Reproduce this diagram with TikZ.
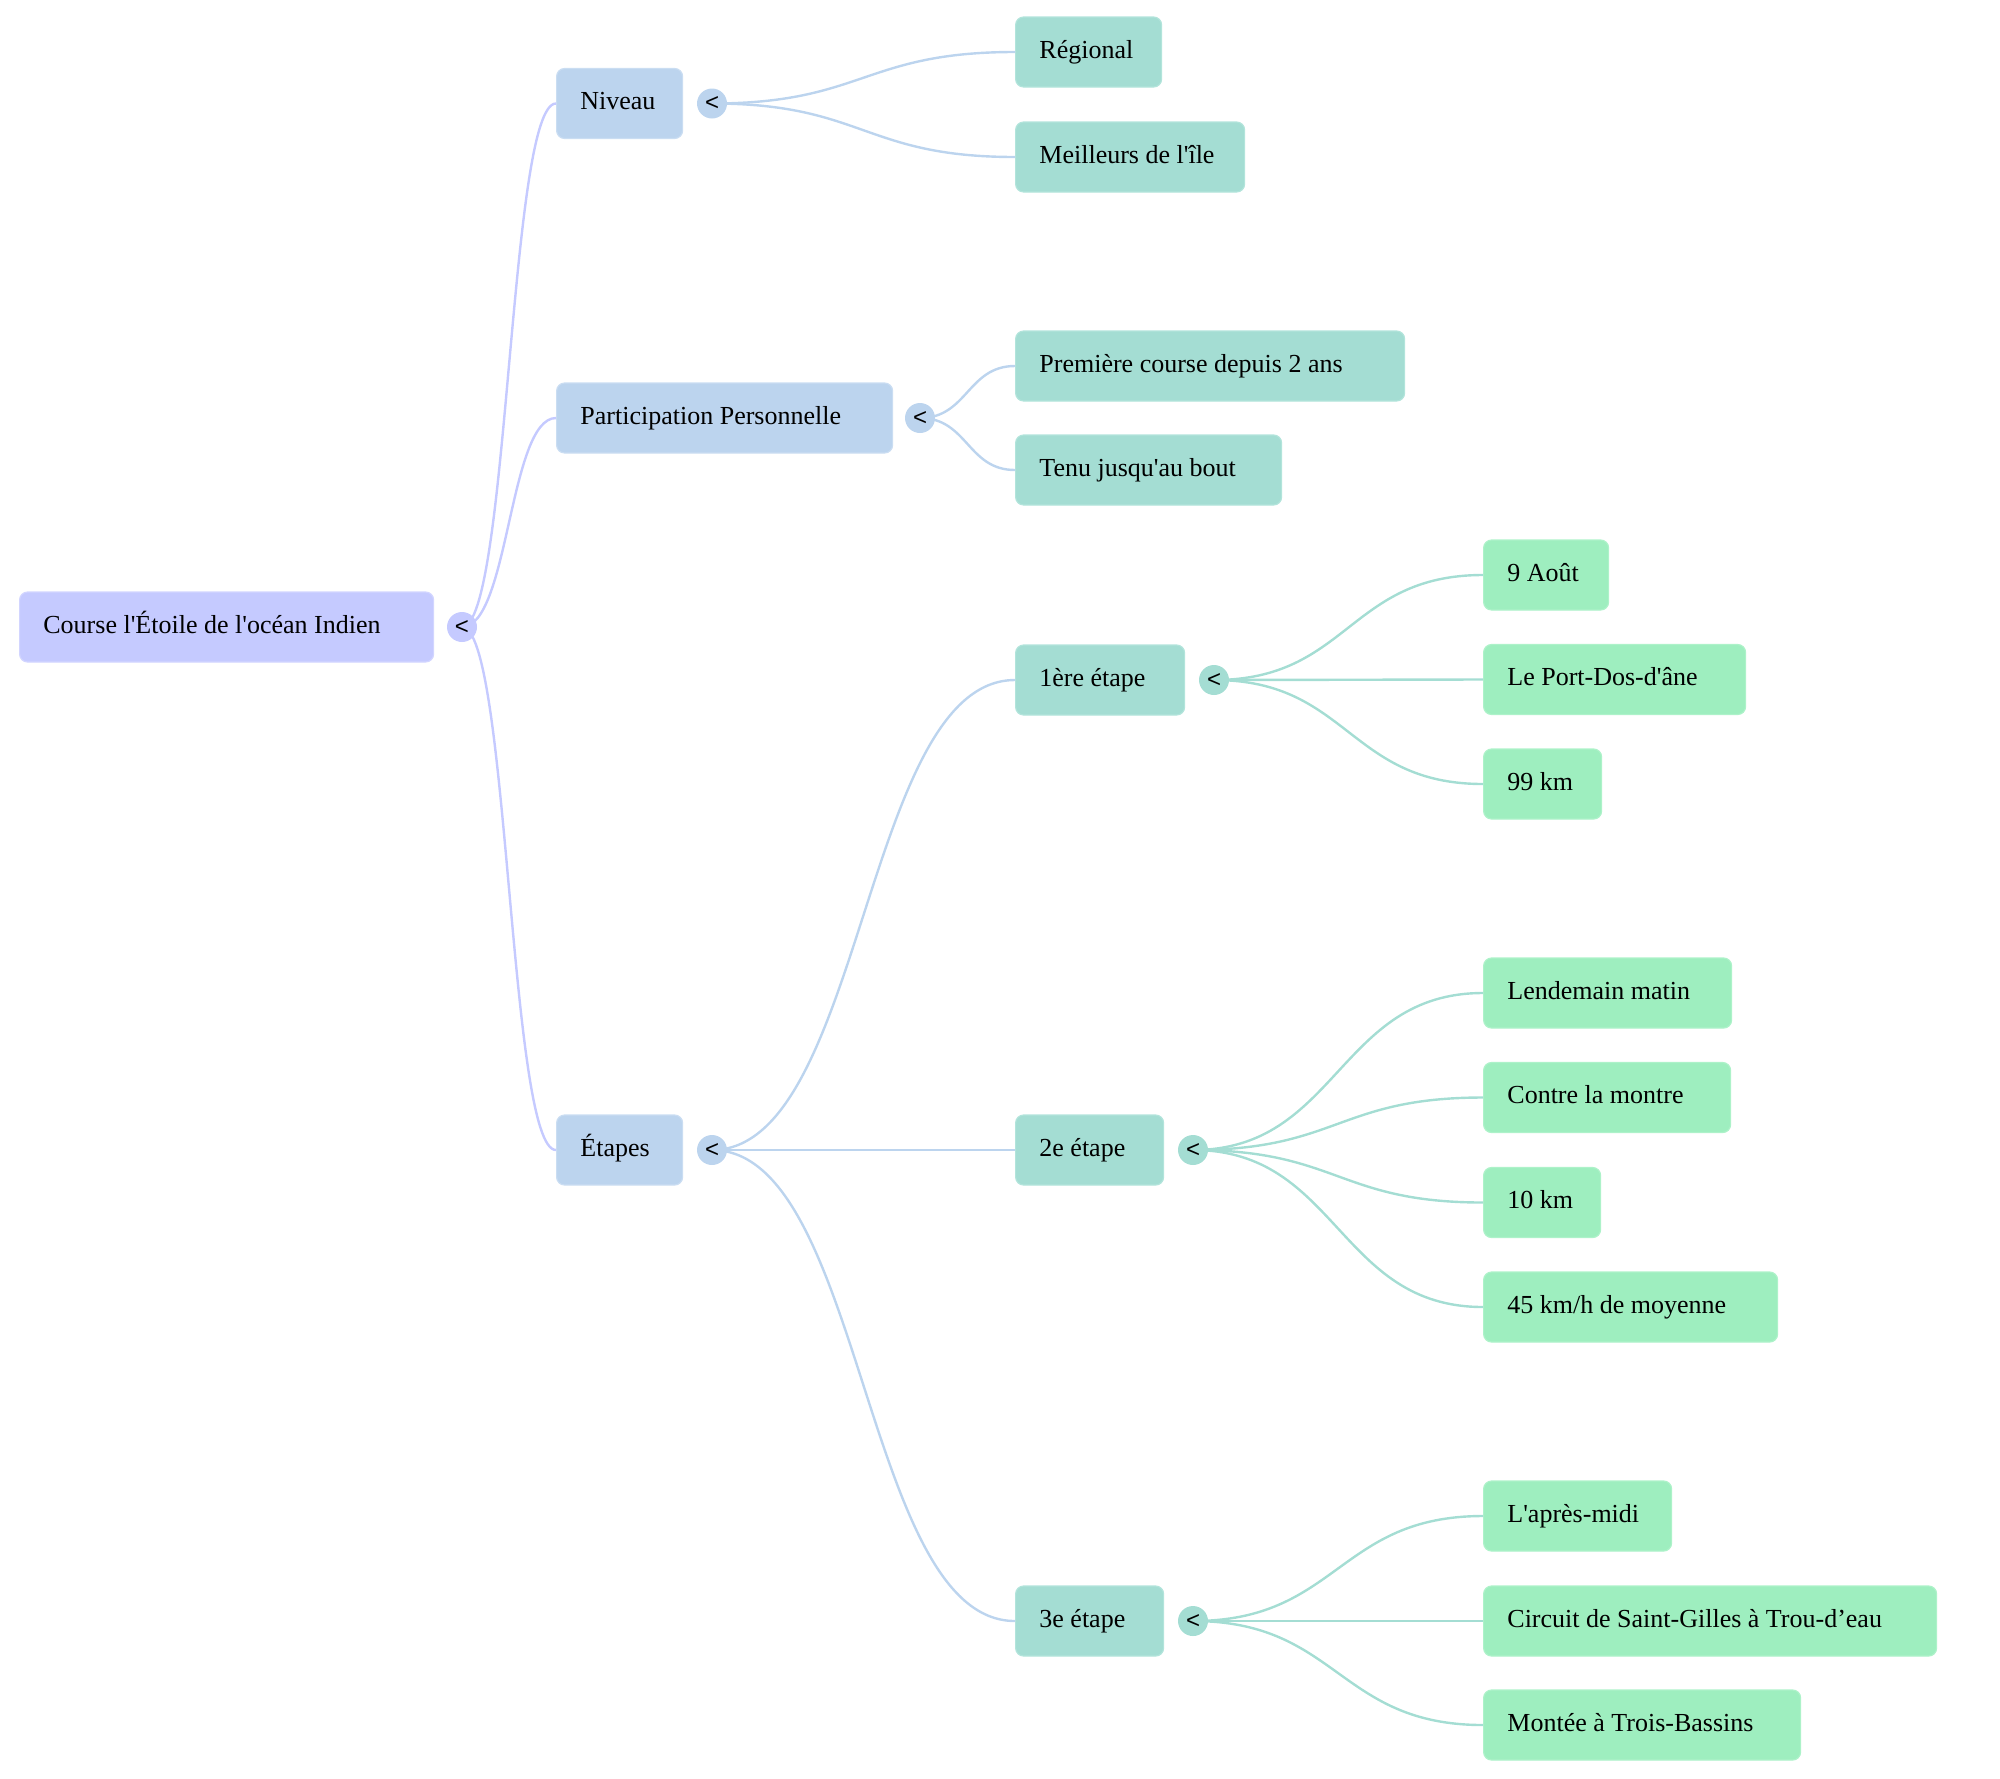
\documentclass[tikz,border=0pt]{standalone}
\usepackage{fontspec}
\setmainfont{Liberation Serif}
\setsansfont{Liberation Sans}
\usetikzlibrary{calc}
\newcommand{\sq}{\textquotesingle}
\definecolor{rootfill}{HTML}{C5CAFF}
\definecolor{rootline}{HTML}{D2D5FF}
\definecolor{lonefill}{HTML}{BCD4EE}
\definecolor{loneline}{HTML}{CADDF2}
\definecolor{ltwofill}{HTML}{A4DDD3}
\definecolor{ltwoline}{HTML}{B2E4DB}
\definecolor{lthreefill}{HTML}{9EEEBF}
\definecolor{lthreeline}{HTML}{ADF2C9}
\tikzset{
  box/.style={draw, line width=0.6pt, rounded corners=4pt, minimum height=35pt, inner sep=0pt},
  txt/.style={inner sep=0pt, font=\fontsize{13}{15}\selectfont},
  dot/.style={circle, minimum size=15pt, inner sep=0pt, font=\sffamily\fontsize{12}{14}\selectfont},
  rootbox/.style={box, fill=rootfill, draw=rootline},
  onebox/.style={box, fill=lonefill, draw=loneline},
  twobox/.style={box, fill=ltwofill, draw=ltwoline},
  threebox/.style={box, fill=lthreefill, draw=lthreeline},
  rootconn/.style={draw=rootfill, line width=1.2pt},
  oneconn/.style={draw=lonefill, line width=1.2pt},
  twoconn/.style={draw=ltwofill, line width=1.2pt},
}
\newcommand{\tbox}[6]{%
  \node[#5, minimum width=#4*0.5pt, anchor=west] (#1) at (#2,#3) {};
  \node[txt, anchor=base west] (#1-t) at ([xshift=12pt,yshift=-3pt]#1.west) {#6};
}
\newcommand{\tlink}[3]{%
  \draw[#3] let \p1=(#1.center), \p2=(#2.west) in
    (\p1) .. controls ({(\x1+\x2)/2},\y1) and ({(\x1+\x2)/2},\y2) .. (\p2);
}
\begin{document}
\begin{tikzpicture}[x=0.5pt, y=-0.5pt]
\useasboundingbox (0,0) rectangle (2000,1778);
\coordinate (c0) at (462,627);
\coordinate (c1) at (712,103.5);
\coordinate (c2) at (920,418);
\coordinate (c3) at (712,1150);
\coordinate (c31) at (1214,680);
\coordinate (c32) at (1193,1150);
\coordinate (c33) at (1193,1621);
% boxes
\tbox{root}{19}{627}{414}{rootbox}{Course l\sq Étoile de l\sq océan Indien}
\tbox{niv}{556}{103.5}{126}{onebox}{Niveau}
\tbox{part}{556}{418}{336}{onebox}{Participation Personnelle}
\tbox{eta}{556}{1150}{126}{onebox}{Étapes}
\tbox{reg}{1015}{52}{146}{twobox}{Régional}
\tbox{mei}{1015}{157}{229}{twobox}{Meilleurs de l\sq île}
\tbox{pre}{1015}{366}{389}{twobox}{Première course depuis 2 ans}
\tbox{ten}{1015}{470}{266}{twobox}{Tenu jusqu\sq au bout}
\tbox{e1}{1015}{680}{169}{twobox}{1ère étape}
\tbox{e2}{1015}{1150}{148}{twobox}{2e étape}
\tbox{e3}{1015}{1621}{148}{twobox}{3e étape}
\tbox{a1}{1483}{575}{125}{threebox}{9 Août}
\tbox{a2}{1483}{679.5}{262}{threebox}{Le Port-Dos-d\sq âne}
\tbox{a3}{1483}{784}{118}{threebox}{99 km}
\tbox{b1}{1483}{993}{248}{threebox}{Lendemain matin}
\tbox{b2}{1483}{1097.5}{247}{threebox}{Contre la montre}
\tbox{b3}{1483}{1202.5}{117}{threebox}{10 km}
\tbox{b4}{1483}{1307}{294}{threebox}{45 km/h de moyenne}
\tbox{d1}{1483}{1516}{188}{threebox}{L\sq après-midi}
\tbox{d2}{1483}{1621}{453}{threebox}{Circuit de Saint-Gilles à Trou-d’eau}
\tbox{d3}{1483}{1725}{317}{threebox}{Montée à Trois-Bassins}
% connectors
\tlink{c0}{niv}{rootconn}
\tlink{c0}{part}{rootconn}
\tlink{c0}{eta}{rootconn}
\tlink{c1}{reg}{oneconn}
\tlink{c1}{mei}{oneconn}
\tlink{c2}{pre}{oneconn}
\tlink{c2}{ten}{oneconn}
\tlink{c3}{e1}{oneconn}
\tlink{c3}{e2}{oneconn}
\tlink{c3}{e3}{oneconn}
\tlink{c31}{a1}{twoconn}
\tlink{c31}{a2}{twoconn}
\tlink{c31}{a3}{twoconn}
\tlink{c32}{b1}{twoconn}
\tlink{c32}{b2}{twoconn}
\tlink{c32}{b3}{twoconn}
\tlink{c32}{b4}{twoconn}
\tlink{c33}{d1}{twoconn}
\tlink{c33}{d2}{twoconn}
\tlink{c33}{d3}{twoconn}
% circles
\node[dot, fill=rootfill] (k0) at (c0) {<};
\node[dot, fill=lonefill] (k1) at (c1) {<};
\node[dot, fill=lonefill] (k2) at (c2) {<};
\node[dot, fill=lonefill] (k3) at (c3) {<};
\node[dot, fill=ltwofill] (k31) at (c31) {<};
\node[dot, fill=ltwofill] (k32) at (c32) {<};
\node[dot, fill=ltwofill] (k33) at (c33) {<};
\end{tikzpicture}
\end{document}
